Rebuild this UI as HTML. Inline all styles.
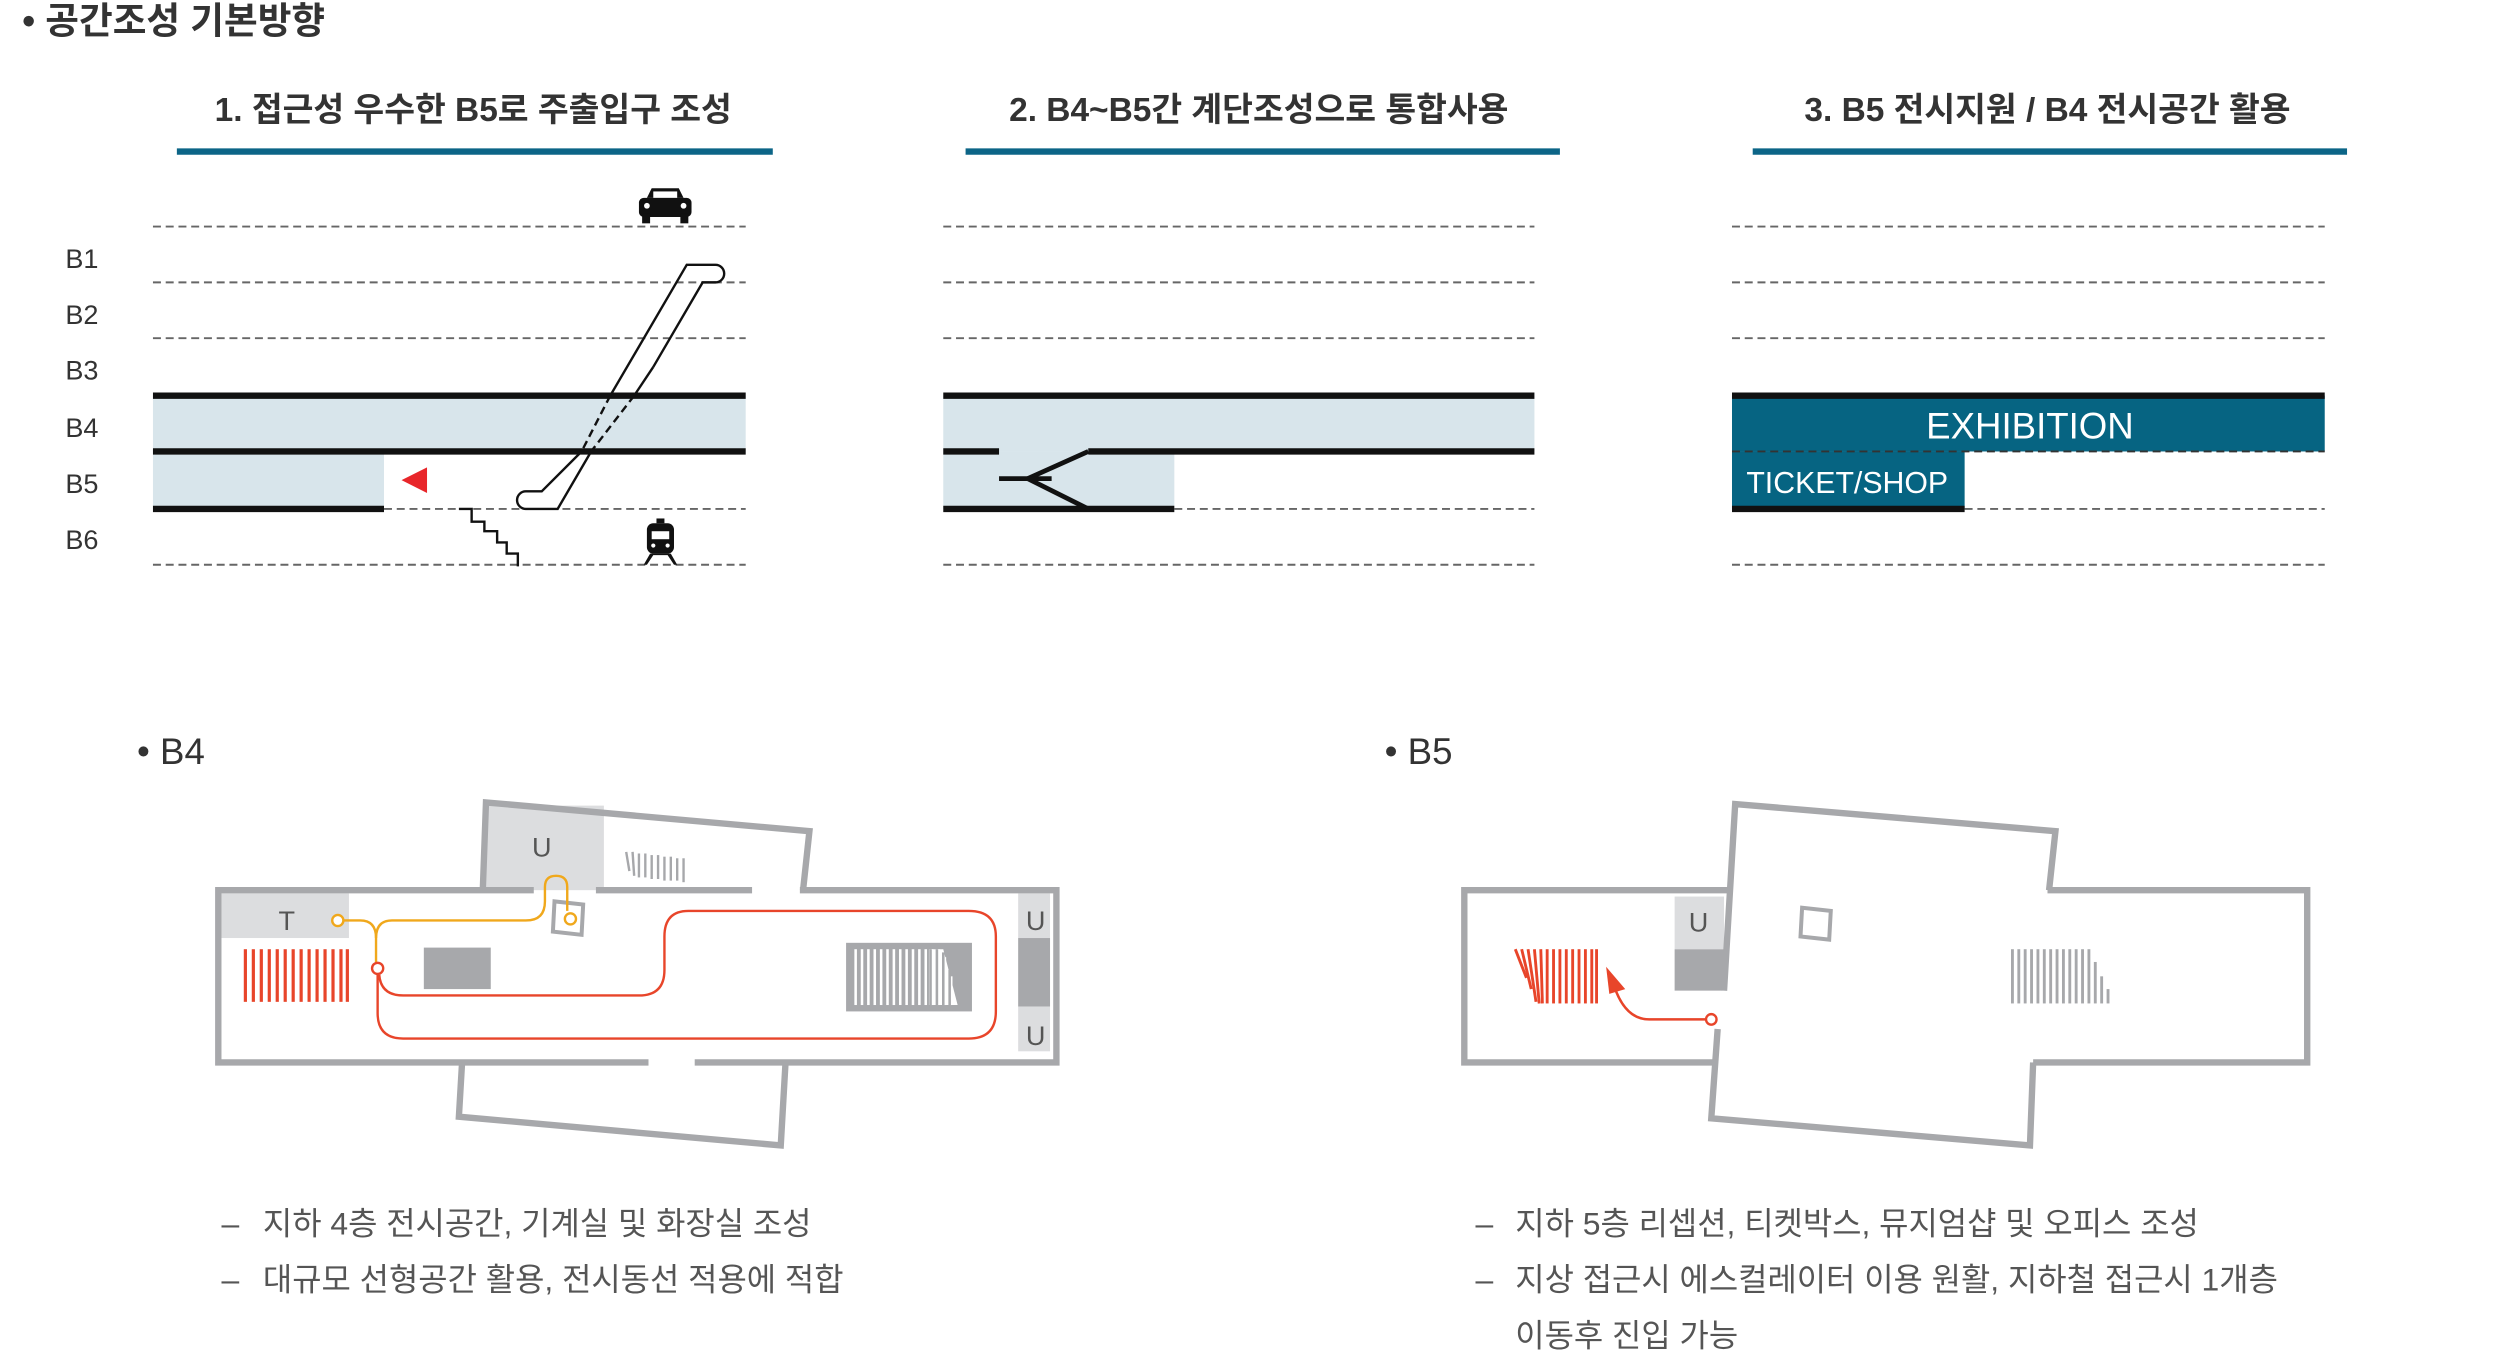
<!DOCTYPE html>
<html><head><meta charset="utf-8"><style>
html,body{margin:0;padding:0;background:#fff;}
svg{display:block;}
text{font-family:"Liberation Sans","Noto Sans CJK KR",sans-serif;}
</style></head><body>
<svg width="2500" height="1356" viewBox="0 0 1569 850" preserveAspectRatio="none" xmlns="http://www.w3.org/2000/svg">
<!-- title -->
<text x="14" y="21" font-size="23" font-weight="bold" fill="#333">• 공간조성 기본방향</text>
<!-- headings -->
<g font-size="21" fill="#333" text-anchor="middle" font-weight="bold">
<text x="297" y="76">1. 접근성 우수한 B5로 주출입구 조성</text>
<text x="790" y="76">2. B4~B5간 계단조성으로 통합사용</text>
<text x="1285" y="76">3. B5 전시지원 / B4 전시공간 활용</text>
</g>
<g fill="#0c6587">
<rect x="111" y="93" width="374" height="4"/>
<rect x="606" y="93" width="373" height="4"/>
<rect x="1100" y="93" width="373" height="4"/>
</g>

<!-- Diagram 1 -->
<g font-size="17" fill="#333">
<text x="41" y="168">B1</text><text x="41" y="203">B2</text><text x="41" y="238">B3</text>
<text x="41" y="274">B4</text><text x="41" y="309">B5</text><text x="41" y="344">B6</text>
</g>
<rect x="96" y="248" width="372" height="35" fill="#d8e5eb"/>
<rect x="96" y="283" width="145" height="36" fill="#d8e5eb"/>
<g stroke="#666" stroke-width="1.2" stroke-dasharray="5,3" fill="none">
<line x1="96" y1="142" x2="468" y2="142"/><line x1="96" y1="177" x2="468" y2="177"/>
<line x1="96" y1="212" x2="468" y2="212"/><line x1="241" y1="319" x2="468" y2="319"/>
<line x1="96" y1="354" x2="468" y2="354"/>
</g>
<g stroke="#111" stroke-width="4">
<line x1="96" y1="248" x2="468" y2="248"/><line x1="96" y1="283" x2="468" y2="283"/>
<line x1="96" y1="319" x2="241" y2="319"/>
</g>
<polygon points="252,301 268,293 268,309" fill="#e8262a"/>
<polyline points="288,319 296,319 296,327 304,327 304,333 312,333 312,340 318,340 318,347 325,347 325,355" fill="none" stroke="#111" stroke-width="1.5"/>
<!-- escalator -->
<g fill="none" stroke="#111" stroke-width="1.5">
<path d="M383,248 L431,166 H449 A5.5,5.5 0 0 1 449,177 H441 L410,230"/>
<path d="M365,283 L340,308 H330 A5.5,5.5 0 0 0 330,319 H350 L371,283"/>
<line x1="410" y1="230" x2="398" y2="248"/>
<line x1="383" y1="248" x2="365" y2="283" stroke-dasharray="5,3"/>
<line x1="398" y1="248" x2="371" y2="283" stroke-dasharray="5,3"/>
</g>
<!-- car -->
<g fill="#111">
<path d="M406,124 L409,118 H426 L429,124 Z"/>
<rect x="401" y="124" width="33" height="12" rx="3"/>
<rect x="403" y="134" width="5" height="6"/><rect x="427" y="134" width="5" height="6"/>
</g>
<rect x="410" y="120" width="15" height="4" fill="#fff"/>
<circle cx="406" cy="129" r="1.8" fill="#fff"/><circle cx="429" cy="129" r="1.8" fill="#fff"/>
<!-- train -->
<g fill="#111">
<rect x="406" y="328" width="17" height="19" rx="4"/>
<rect x="412" y="325" width="5" height="3"/>
<path d="M408,347 L404,354 H406 L410,348 H419 L423,354 H425 L421,347Z"/>
</g>
<rect x="409" y="333" width="11" height="5" fill="#fff"/>
<circle cx="410" cy="342" r="1.3" fill="#fff"/><circle cx="419" cy="342" r="1.3" fill="#fff"/>

<!-- Diagram 2 -->
<rect x="592" y="248" width="371" height="35" fill="#d8e5eb"/>
<rect x="592" y="283" width="145" height="36" fill="#d8e5eb"/>
<g stroke="#666" stroke-width="1.2" stroke-dasharray="5,3" fill="none">
<line x1="592" y1="142" x2="963" y2="142"/><line x1="592" y1="177" x2="963" y2="177"/>
<line x1="592" y1="212" x2="963" y2="212"/><line x1="737" y1="319" x2="963" y2="319"/>
<line x1="592" y1="354" x2="963" y2="354"/>
</g>
<g stroke="#111" stroke-width="4" fill="none">
<line x1="592" y1="248" x2="963" y2="248"/>
<line x1="592" y1="283" x2="627" y2="283"/>
<line x1="683" y1="283" x2="963" y2="283"/>
<line x1="592" y1="319" x2="737" y2="319"/>
<polyline points="683,283 645,300 683,319" stroke-width="3"/>
<line x1="627" y1="300" x2="660" y2="300" stroke-width="3"/>
</g>

<!-- Diagram 3 -->
<g stroke="#666" stroke-width="1.2" stroke-dasharray="5,3" fill="none">
<line x1="1087" y1="142" x2="1459" y2="142"/><line x1="1087" y1="177" x2="1459" y2="177"/>
<line x1="1087" y1="212" x2="1459" y2="212"/><line x1="1233" y1="319" x2="1459" y2="319"/>
<line x1="1087" y1="354" x2="1459" y2="354"/>
</g>
<rect x="1087" y="248" width="372" height="35" fill="#066482"/>
<rect x="1087" y="283" width="146" height="36" fill="#066482"/>
<line x1="1087" y1="248" x2="1459" y2="248" stroke="#111" stroke-width="4"/>
<line x1="1087" y1="319" x2="1233" y2="319" stroke="#111" stroke-width="4"/>
<line x1="1087" y1="283" x2="1459" y2="283" stroke="#333" stroke-width="1.2" stroke-dasharray="5,3"/>
<text x="1274" y="275" font-size="23" fill="#fff" text-anchor="middle">EXHIBITION</text>
<text x="1096" y="309" font-size="19" fill="#fff">TICKET/SHOP</text>

<!-- B4/B5 labels -->
<text x="86" y="479" font-size="23" fill="#333">• B4</text>
<text x="869" y="479" font-size="23" fill="#333">• B5</text>

<!-- B4 plan -->
<g>
<rect x="305" y="505" width="74" height="53" fill="#dcdddf"/>
<rect x="139" y="560" width="80" height="28" fill="#dcdddf"/>
<rect x="639" y="560" width="20" height="28" fill="#dcdddf"/>
<rect x="639" y="588" width="20" height="43" fill="#a7a8ab"/>
<rect x="639" y="631" width="20" height="28" fill="#dcdddf"/>
<g fill="none" stroke="#a7a8ab" stroke-width="4">
<polyline points="335,558 137,558 137,666 407,666"/>
<polyline points="436,666 663,666 663,558 502,558"/>
<polyline points="374,558 472,558"/>
<polyline points="303,558 305,503 508,521 504,558"/>
<polyline points="290,666 288,700 490,718 493,666"/>
</g>
<text x="340" y="537" font-size="17" fill="#555" text-anchor="middle">U</text>
<text x="180" y="583" font-size="17" fill="#555" text-anchor="middle">T</text>
<text x="650" y="583" font-size="17" fill="#555" text-anchor="middle">U</text>
<text x="650" y="655" font-size="17" fill="#555" text-anchor="middle">U</text>
<!-- red stairs -->
<g stroke="#e8452a" stroke-width="2">
<line x1="154" y1="595" x2="154" y2="628"/><line x1="159" y1="595" x2="159" y2="628"/>
<line x1="164" y1="595" x2="164" y2="628"/><line x1="169" y1="595" x2="169" y2="628"/>
<line x1="174" y1="595" x2="174" y2="628"/><line x1="179" y1="595" x2="179" y2="628"/>
<line x1="184" y1="595" x2="184" y2="628"/><line x1="189" y1="595" x2="189" y2="628"/>
<line x1="194" y1="595" x2="194" y2="628"/><line x1="199" y1="595" x2="199" y2="628"/>
<line x1="204" y1="595" x2="204" y2="628"/><line x1="209" y1="595" x2="209" y2="628"/>
<line x1="214" y1="595" x2="214" y2="628"/><line x1="218" y1="595" x2="218" y2="628"/>
</g>
<rect x="266" y="594" width="42" height="26" fill="#a7a8ab"/>
<!-- gray escalator block -->
<rect x="531" y="591" width="79" height="43" fill="#a7a8ab"/>
<g stroke="#fff" stroke-width="1.6">
<line x1="537" y1="595" x2="537" y2="630"/><line x1="541" y1="595" x2="541" y2="630"/>
<line x1="545" y1="595" x2="545" y2="630"/><line x1="549" y1="595" x2="549" y2="630"/>
<line x1="553" y1="595" x2="553" y2="630"/><line x1="557" y1="595" x2="557" y2="630"/>
<line x1="561" y1="595" x2="561" y2="630"/><line x1="565" y1="595" x2="565" y2="630"/>
<line x1="569" y1="595" x2="569" y2="630"/><line x1="573" y1="595" x2="573" y2="630"/>
<line x1="577" y1="595" x2="577" y2="630"/><line x1="581" y1="595" x2="581" y2="630"/>
</g>
<polygon points="583,595 592,595 601,630 583,630" fill="#fff"/>
<g stroke="#fff" stroke-width="1.6"><line x1="585" y1="595" x2="585" y2="630"/><line x1="589" y1="595" x2="589" y2="630"/><line x1="593" y1="600" x2="593" y2="630"/><line x1="597" y1="612" x2="597" y2="630"/></g>
<g stroke="#a7a8ab" stroke-width="1.6"><line x1="584" y1="595" x2="584" y2="630"/><line x1="588" y1="595" x2="588" y2="630"/><line x1="592" y1="597" x2="592" y2="630"/><line x1="596" y1="608" x2="596" y2="630"/></g>
<!-- top wing stripes -->
<g stroke="#a7a8ab" stroke-width="1.5">
<line x1="393" y1="534" x2="395" y2="546"/><line x1="397" y1="534" x2="398" y2="549"/>
<line x1="401" y1="535" x2="401" y2="550"/><line x1="405" y1="535" x2="405" y2="550"/>
<line x1="409" y1="536" x2="409" y2="551"/><line x1="413" y1="536" x2="413" y2="551"/>
<line x1="417" y1="537" x2="417" y2="552"/><line x1="421" y1="537" x2="421" y2="552"/>
<line x1="425" y1="538" x2="425" y2="552"/><line x1="429" y1="538" x2="429" y2="553"/>
</g>
<!-- elevator square -->
<polygon points="348,565 366,567 365,586 347,584" fill="none" stroke="#a7a8ab" stroke-width="2.5"/>
<!-- paths -->
<g fill="none" stroke="#f0a81c" stroke-width="1.5">
<path d="M214,577 H226 Q236,577 236,588 V603"/>
<path d="M236,588 Q236,577 246,577 H330 Q342,577 342,565 V556 Q342,549 349,549 Q356,549 356,556 V571"/>
</g>
<circle cx="212" cy="577" r="3.5" fill="#fff" stroke="#f0a81c" stroke-width="1.5"/>
<circle cx="358" cy="576" r="3.5" fill="#fff" stroke="#f0a81c" stroke-width="1.5"/>
<path d="M237,611 V635 Q237,651 253,651 H608 Q625,651 625,634 V587 Q625,571 608,571 H432 Q417,571 417,587 V608 Q417,624 401,624 H253 Q239,624 238,611" fill="none" stroke="#e8452a" stroke-width="1.5"/>
<circle cx="237" cy="607" r="3.5" fill="#fff" stroke="#e8452a" stroke-width="1.5"/>
</g>

<!-- B5 plan -->
<g>
<rect x="1051" y="562" width="31" height="33" fill="#dcdddf"/>
<polygon points="1051,595 1082,595 1081,621 1051,621" fill="#a7a8ab"/>
<g fill="none" stroke="#a7a8ab" stroke-width="4">
<polyline points="1085,558 919,558 919,666 1077,666"/>
<polyline points="1285,558 1448,558 1448,666 1276,666"/>
<polyline points="1082,621 1089,504 1290,521 1286,558"/>
<polyline points="1078,645 1074,701 1274,718 1276,666"/>
</g>
<text x="1066" y="584" font-size="17" fill="#555" text-anchor="middle">U</text>
<polygon points="1131,569 1149,571 1148,589 1130,587" fill="none" stroke="#a7a8ab" stroke-width="2.5"/>
<g stroke="#e8452a" stroke-width="1.8">
<line x1="951" y1="595" x2="958" y2="613"/><line x1="955" y1="595" x2="961" y2="620"/>
<line x1="959" y1="595" x2="964" y2="628"/><line x1="963" y1="595" x2="966" y2="629"/>
<line x1="967" y1="595" x2="968" y2="629"/><line x1="971" y1="595" x2="971" y2="629"/>
<line x1="975" y1="595" x2="975" y2="629"/><line x1="979" y1="595" x2="979" y2="629"/>
<line x1="983" y1="595" x2="983" y2="629"/><line x1="987" y1="595" x2="987" y2="629"/>
<line x1="991" y1="595" x2="991" y2="629"/><line x1="995" y1="595" x2="995" y2="629"/>
<line x1="999" y1="595" x2="999" y2="629"/><line x1="1002" y1="595" x2="1002" y2="629"/>
</g>
<g stroke="#a7a8ab" stroke-width="1.8">
<line x1="1263" y1="595" x2="1263" y2="629"/><line x1="1267" y1="595" x2="1267" y2="629"/>
<line x1="1271" y1="595" x2="1271" y2="629"/><line x1="1275" y1="595" x2="1275" y2="629"/>
<line x1="1279" y1="595" x2="1279" y2="629"/><line x1="1283" y1="595" x2="1283" y2="629"/>
<line x1="1287" y1="595" x2="1287" y2="629"/><line x1="1291" y1="595" x2="1291" y2="629"/>
<line x1="1295" y1="595" x2="1295" y2="629"/><line x1="1299" y1="595" x2="1299" y2="629"/>
<line x1="1303" y1="595" x2="1303" y2="629"/><line x1="1307" y1="595" x2="1307" y2="629"/>
<line x1="1311" y1="595" x2="1311" y2="629"/><line x1="1315" y1="603" x2="1315" y2="629"/>
<line x1="1319" y1="612" x2="1319" y2="629"/><line x1="1323" y1="620" x2="1323" y2="629"/>
</g>
<path d="M1071,639 H1035 Q1020,639 1013,618" fill="none" stroke="#e8452a" stroke-width="1.6"/>
<polygon points="1008,606 1020,620 1010,623" fill="#e8452a"/>
<circle cx="1074" cy="639" r="3.3" fill="#fff" stroke="#e8452a" stroke-width="1.5"/>
</g>

<!-- descriptions -->
<g font-size="20" fill="#555">
<text x="139" y="774">–</text><text x="165" y="774">지하 4층 전시공간, 기계실 및 화장실 조성</text>
<text x="139" y="809">–</text><text x="165" y="809">대규모 선형공간 활용, 전시동선 적용에 적합</text>
<text x="926" y="774">–</text><text x="951" y="774">지하 5층 리셉션, 티켓박스, 뮤지엄샵 및 오피스 조성</text>
<text x="926" y="809">–</text><text x="951" y="809">지상 접근시 에스컬레이터 이용 원활, 지하철 접근시 1개층</text>
<text x="951" y="844">이동후 진입 가능</text>
</g>
</svg>
</body></html>
